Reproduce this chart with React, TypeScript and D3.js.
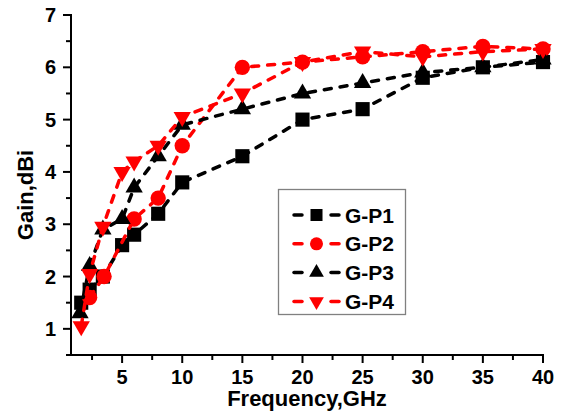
import React, { useEffect, useRef } from 'react';
import * as d3 from 'd3';

// frequency (GHz) and gain (dBi)
const freqP1 = [1.6, 2.3, 3.4, 5, 6, 8, 10, 15, 20, 25, 30, 35, 40];
const gainP1 = [1.5, 1.75, 2.0, 2.6, 2.8, 3.2, 3.8, 4.3, 5.0, 5.2, 5.8, 6.0, 6.1];

const freqP2 = [2.3, 3.5, 6, 8, 10, 15, 20, 25, 30, 35, 40];
const gainP2 = [1.6, 2.0, 3.1, 3.5, 4.5, 6.0, 6.1, 6.2, 6.3, 6.4, 6.35];

const freqP3 = [1.5, 2.3, 3.4, 5, 6, 8, 10, 15, 20, 25, 30, 35, 40];
const gainP3 = [1.3, 2.2, 2.9, 3.1, 3.7, 4.3, 4.9, 5.2, 5.5, 5.7, 5.9, 6.0, 6.15];

const freqP4 = [1.6, 2.3, 3.4, 5, 6, 8, 10, 15, 20, 25, 30, 35, 40];
const gainP4 = [1.05, 2.05, 2.95, 4.0, 4.2, 4.5, 5.05, 5.5, 6.1, 6.3, 6.2, 6.3, 6.35];

const seriesNames = ['G-P1', 'G-P2', 'G-P3', 'G-P4'];
const seriesColors = ['#000000', '#ff0000', '#000000', '#ff0000'];
const seriesShapes = ['square', 'circle', 'up', 'down'];

const xMajorTicks = [5, 10, 15, 20, 25, 30, 35, 40];
const xMinorTicks = [2.5, 7.5, 12.5, 17.5, 22.5, 27.5, 32.5, 37.5];
const yMajorTicks = [1, 2, 3, 4, 5, 6, 7];
const yMinorTicks = [0.5, 1.5, 2.5, 3.5, 4.5, 5.5, 6.5];

const FONT = '"Liberation Sans", Arial, sans-serif';

function symbolPath(shape, scale) {
  var s = scale || 1;
  if (shape === 'square') return d3.symbol().type(d3.symbolSquare).size(200 * s * s)();
  if (shape === 'circle') return d3.symbol().type(d3.symbolCircle).size(185 * s * s)();
  return d3.symbol().type(d3.symbolTriangle).size(130 * s * s)();
}

export default function App() {
  const ref = useRef(null);

  useEffect(() => {
    const svg = d3.select(ref.current);
    svg.selectAll('*').remove();

    const x = d3.scaleLinear().domain([0.75, 40]).range([71, 543]);
    const y = d3.scaleLinear().domain([0.5, 7]).range([355, 15]);

    const data = [
      d3.zip(freqP1, gainP1),
      d3.zip(freqP2, gainP2),
      d3.zip(freqP3, gainP3),
      d3.zip(freqP4, gainP4)
    ];

    // axes
    const ax = svg.append('g').attr('stroke', '#000').attr('stroke-width', 2);
    ax.append('line').attr('x1', x(0.75)).attr('x2', x(0.75)).attr('y1', y(7) - 1).attr('y2', y(0.5) + 1);
    ax.append('line').attr('x1', x(0.75) - 1).attr('x2', x(40) + 1).attr('y1', y(0.5)).attr('y2', y(0.5));

    xMajorTicks.forEach((t) => {
      ax.append('line').attr('x1', x(t)).attr('x2', x(t)).attr('y1', y(0.5)).attr('y2', y(0.5) + 8);
    });
    xMinorTicks.forEach((t) => {
      ax.append('line').attr('x1', x(t)).attr('x2', x(t)).attr('y1', y(0.5)).attr('y2', y(0.5) + 5);
    });
    yMajorTicks.forEach((t) => {
      ax.append('line').attr('x1', x(0.75) - 8).attr('x2', x(0.75)).attr('y1', y(t)).attr('y2', y(t));
    });
    yMinorTicks.forEach((t) => {
      ax.append('line').attr('x1', x(0.75) - 5).attr('x2', x(0.75)).attr('y1', y(t)).attr('y2', y(t));
    });

    svg.selectAll('.xlab').data(xMajorTicks).enter().append('text')
      .attr('x', (d) => x(d))
      .attr('y', 384)
      .attr('text-anchor', 'middle')
      .style('font-family', FONT).style('font-weight', 'bold').style('font-size', '20px')
      .text((d) => d);

    svg.selectAll('.ylab').data(yMajorTicks).enter().append('text')
      .attr('x', 56)
      .attr('y', (d) => y(d))
      .attr('dy', '0.35em')
      .attr('text-anchor', 'end')
      .style('font-family', FONT).style('font-weight', 'bold').style('font-size', '20px')
      .text((d) => d);

    svg.append('text')
      .attr('x', 307).attr('y', 406)
      .attr('text-anchor', 'middle')
      .style('font-family', FONT).style('font-weight', 'bold').style('font-size', '22px')
      .text('Frequency,GHz');

    svg.append('text')
      .attr('transform', 'translate(33,195) rotate(-90)')
      .attr('text-anchor', 'middle')
      .style('font-family', FONT).style('font-weight', 'bold').style('font-size', '22px')
      .text('Gain,dBi');

    // series
    const line = d3.line().x((d) => x(d[0])).y((d) => y(d[1]));
    data.forEach((pts, i) => {
      const g = svg.append('g');
      g.append('path')
        .attr('d', line(pts))
        .attr('fill', 'none')
        .attr('stroke', seriesColors[i])
        .attr('stroke-width', 3.5)
        .attr('stroke-dasharray', '7 9')
        .attr('stroke-linecap', 'round');
      g.selectAll('path.mk').data(pts).enter().append('path')
        .attr('class', 'mk')
        .attr('d', symbolPath(seriesShapes[i]))
        .attr('transform', (d) => 'translate(' + x(d[0]) + ',' + y(d[1]) + ')' + (seriesShapes[i] === 'down' ? ' rotate(180)' : ''))
        .attr('fill', seriesColors[i]);
    });

    // legend
    const lg = svg.append('g');
    lg.append('rect').attr('x', 278.5).attr('y', 189.5).attr('width', 127).attr('height', 125)
      .attr('fill', '#fff').attr('stroke', '#808080').attr('stroke-width', 1.3);
    seriesNames.forEach((name, i) => {
      const cy = 215 + i * 28.8;
      [[294, 302], [331, 339]].forEach((seg) => {
        lg.append('line').attr('x1', seg[0]).attr('x2', seg[1]).attr('y1', cy).attr('y2', cy)
          .attr('stroke', seriesColors[i]).attr('stroke-width', 3.5).attr('stroke-linecap', 'round');
      });
      lg.append('path')
        .attr('d', symbolPath(seriesShapes[i], 0.85))
        .attr('transform', 'translate(316.5,' + cy + ')' + (seriesShapes[i] === 'down' ? ' rotate(180)' : ''))
        .attr('fill', seriesColors[i]);
      lg.append('text')
        .attr('x', 345).attr('y', cy + 7.5)
        .style('font-family', FONT).style('font-weight', 'bold').style('font-size', '21px')
        .text(name);
    });
  }, []);

  return (
    <svg ref={ref} width={568} height={414}
      style={{ position: 'absolute', left: 0, top: 0, background: '#fff' }} />
  );
}
